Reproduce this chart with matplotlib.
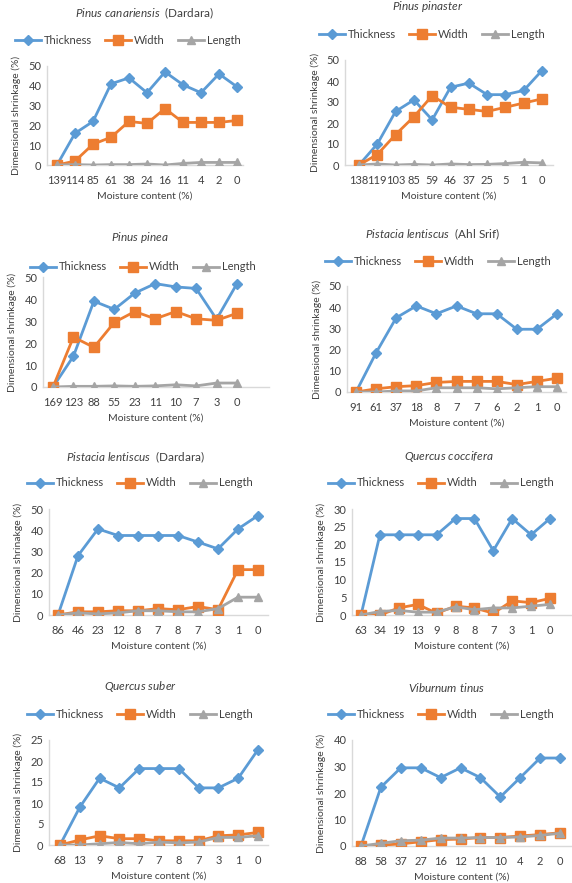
import matplotlib
matplotlib.use("Agg")
import matplotlib.pyplot as plt

plt.rcParams["font.family"] = ["Lato", "DejaVu Sans"]
plt.rcParams["mathtext.fontset"] = "custom"
plt.rcParams["mathtext.it"] = "Lato:italic"
plt.rcParams["mathtext.rm"] = "Lato"

BLUE = "#5B9BD5"
ORANGE = "#ED7D31"
GRAY = "#A5A5A5"

# ---- data ----
can_moist = ["139", "114", "85", "61", "38", "24", "16", "11", "4", "2", "0"]
can_thick = [0, 16, 22, 41, 44, 36.5, 47, 40.5, 36.5, 46, 39.5]
can_width = [0, 2, 10.5, 14, 22, 21, 28.5, 21.5, 21.5, 21.5, 22.5]
can_length = [0, 0.2, 0, 0.2, 0.2, 0.5, 0, 0.8, 1.3, 1.3, 1.3]

pin_moist = ["138", "119", "103", "85", "59", "46", "37", "25", "5", "1", "0"]
pin_thick = [0, 10, 25.5, 31, 21.5, 37, 39, 33.5, 33.5, 35.5, 45]
pin_width = [0, 5, 14.5, 23, 33, 27.5, 26.5, 25.5, 27.5, 29.5, 31.5]
pin_length = [0, 0.5, 0, 0.3, 0, 0.5, 0.2, 0.3, 0.7, 1.3, 1.0]

pinea_moist = ["169", "123", "88", "55", "23", "11", "10", "7", "3", "0"]
pinea_thick = [0, 14, 39, 35.3, 42.7, 47, 45.5, 44.8, 30.8, 47]
pinea_width = [0, 22.7, 18, 29.4, 34.3, 31, 34.3, 31, 30.3, 33.5]
pinea_length = [0, 0.3, 0.3, 0.5, 0.3, 0.5, 1.0, 0.5, 1.8, 1.8]

pla_moist = ["91", "61", "37", "18", "8", "7", "7", "6", "2", "1", "0"]
pla_thick = [0, 18.5, 35, 40.6, 36.9, 40.6, 36.9, 36.9, 29.6, 29.6, 36.9]
pla_width = [0, 1.5, 2.5, 3, 4.5, 5, 5, 5, 3.5, 5, 6.5]
pla_length = [0, 0, 0.5, 0.5, 2, 2, 2, 1.5, 2, 2.5, 2.5]

pld_moist = ["86", "46", "23", "12", "8", "7", "8", "7", "3", "1", "0"]
pld_thick = [0, 28, 40.6, 37.5, 37.5, 37.5, 37.5, 34.4, 31.2, 40.6, 46.9]
pld_width = [0, 1.5, 1.5, 2, 2, 3, 2.5, 4, 2.5, 21.4, 21.4]
pld_length = [0, 1, 0.5, 1, 2, 2, 1.5, 1.5, 3, 8.4, 8.4]

qc_moist = ["63", "34", "19", "13", "9", "8", "8", "7", "3", "1", "0"]
qc_thick = [0, 22.7, 22.7, 22.7, 22.7, 27.3, 27.3, 18.2, 27.3, 22.7, 27.3]
qc_width = [0, 0, 2, 3, 0.5, 2.5, 2, 0.5, 4, 3.5, 4.7]
qc_length = [0, 1, 1.3, 0.8, 0.8, 2.3, 1.5, 2, 2, 2.5, 3]

qs_moist = ["68", "13", "9", "8", "7", "7", "8", "7", "3", "1", "0"]
qs_thick = [0, 9, 15.9, 13.6, 18.2, 18.2, 18.2, 13.6, 13.6, 15.9, 22.7]
qs_width = [0, 1.2, 2.2, 1.5, 1.5, 1, 1, 1, 2.2, 2.4, 3]
qs_length = [0, 0, 0.3, 0.6, 0.3, 0.7, 0.5, 0.7, 1.8, 1.8, 2.2]

vt_moist = ["88", "58", "37", "27", "16", "12", "11", "10", "4", "2", "0"]
vt_thick = [0, 22.2, 29.5, 29.5, 25.8, 29.5, 25.8, 18.5, 25.8, 33.2, 33.2]
vt_width = [0, 0.3, 0.8, 1.6, 2.4, 2.6, 3.2, 3.2, 3.8, 4.3, 5]
vt_length = [0, 1, 2, 2.2, 3, 3, 3.2, 3.2, 3.4, 4, 4.8]

W, H = 572, 883
fig = plt.figure(figsize=(W / 100, H / 100), dpi=100)

# name, ylabel, moisture, series, ymax, ystep, axes px (left, top, right, bottom),
# first/last point px, title px (x, y), legend px (x, y)
panels = [
    (r"$\it{Pinus\ canariensis}$  (Dardara)", "Dimensional shrinkage (%)",
     can_moist, (can_thick, can_width, can_length), 50, 10,
     (47, 66, 243, 165), (57, 237), (145, 13), (128, 40)),
    (r"$\it{Pinus\ pinaster}$", "Dimensional shrinkage (%)",
     pin_moist, (pin_thick, pin_width, pin_length), 50, 10,
     (345, 60, 553, 165), (359, 542), (428, 7), (432, 34)),
    (r"$\it{Pinus\ pinea}$", "Dimensional shrinkage (%)",
     pinea_moist, (pinea_thick, pinea_width, pinea_length), 50, 10,
     (43, 277, 269, 387), (53, 237), (140, 238), (143, 267)),
    (r"$\it{Pistacia\ lentiscus}$  (Ahl Srif)", "Dimensional shrinkage (%)",
     pla_moist, (pla_thick, pla_width, pla_length), 50, 10,
     (347, 286, 566, 392), (356, 557), (433, 234), (438, 261)),
    (r"$\it{Pistacia\ lentiscus}$  (Dardara)", "Dimensional shrinakge (%)",
     pld_moist, (pld_thick, pld_width, pld_length), 50, 10,
     (49, 509, 268, 615), (58, 258), (135, 457), (140, 483)),
    (r"$\it{Quercus\ coccifera}$", "Dimensional shrinkage (%)",
     qc_moist, (qc_thick, qc_width, qc_length), 30, 5,
     (352, 509, 571, 615), (361, 550), (449, 456), (441, 483)),
    (r"$\it{Quercus\ suber}$", "Dimensional shrinkage (%)",
     qs_moist, (qs_thick, qs_width, qs_length), 25, 5,
     (49, 740, 268, 845), (60, 258), (140, 687), (140, 714)),
    (r"$\it{Viburnum\ tinus}$", "Dimensional shrinkage (%)",
     vt_moist, (vt_thick, vt_width, vt_length), 40, 10,
     (352, 740, 572, 846), (361, 560), (447, 687), (441, 714)),
]

for title, ylab, moist, series, ymax, ystep, box, pts, tpos, lpos in panels:
    left, top, right, bottom = box
    ax = fig.add_axes([left / W, 1 - bottom / H, (right - left) / W, (bottom - top) / H])
    n = len(moist)
    spacing = (pts[1] - pts[0]) / (n - 1)
    x = list(range(n))
    thick, width, length = series
    ax.plot(x, thick, color=BLUE, lw=2, marker="D", ms=5, label="Thickness", zorder=3)
    ax.plot(x, width, color=ORANGE, lw=2, marker="s", ms=7, label="Width", zorder=4)
    ax.plot(x, length, color=GRAY, lw=2, marker="^", ms=6, label="Length", zorder=5)
    ax.set_xlim(-(pts[0] - left) / spacing, n - 1 + (right - pts[1]) / spacing)
    ax.set_ylim(0, ymax)
    ax.set_yticks(range(0, ymax + 1, ystep))
    ax.set_xticks(x)
    ax.set_xticklabels(moist)
    ax.tick_params(length=0, labelsize=8, colors="#404040", pad=4)
    ax.tick_params(axis="x", pad=7)
    for s in ("top", "right"):
        ax.spines[s].set_visible(False)
    for s in ("left", "bottom"):
        ax.spines[s].set_color("#D9D9D9")
        ax.spines[s].set_linewidth(1)
    ax.set_ylabel(ylab, fontsize=7.5, color="#404040", labelpad=5)
    ax.set_xlabel("Moisture content (%)", fontsize=7.5, color="#404040", labelpad=4)
    fig.text(tpos[0] / W, 1 - tpos[1] / H, title, ha="center", va="center",
             fontsize=8.5, color="#404040")
    fig.legend(*ax.get_legend_handles_labels(), loc="center",
               bbox_to_anchor=(lpos[0] / W, 1 - lpos[1] / H), ncol=3, frameon=False,
               fontsize=8, handlelength=2.3, handletextpad=0.3, columnspacing=1.2,
               labelcolor="#404040", borderaxespad=0, borderpad=0)

fig.savefig("out.png", dpi=100)
